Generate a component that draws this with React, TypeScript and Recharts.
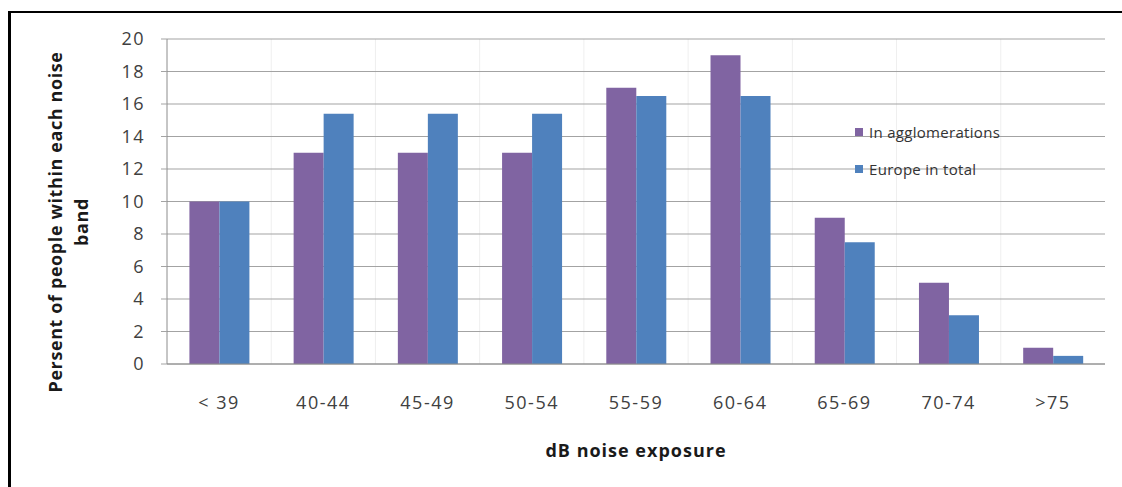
import React from "react"
import {
  BarChart,
  Bar,
  XAxis,
  YAxis,
  CartesianGrid,
  Legend,
} from "recharts"

// noise bands on the x axis
const bands = ["< 39", "40-44", "45-49", "50-54", "55-59", "60-64", "65-69", "70-74", ">75"]
// percent of people per band
const agglomerations = [10, 13, 13, 13, 17, 19, 9, 5, 1]
const europeTotal = [10, 15.4, 15.4, 15.4, 16.5, 16.5, 7.5, 3, 0.5]
const yTicks = [0, 2, 4, 6, 8, 10, 12, 14, 16, 18, 20]

const series = [
  { key: "agglo", name: "In agglomerations", color: "#8064A2" },
  { key: "europe", name: "Europe in total", color: "#4F81BD" },
]

const data = bands.map((band, i) => ({
  band,
  agglo: agglomerations[i],
  europe: europeTotal[i],
}))

const FONT = "'Open Sans', 'Noto Sans', sans-serif"

const LegendBox = () => (
  <div style={{ fontFamily: FONT, fontSize: 15, color: "#333" }}>
    {series.map((s) => (
      <div
        key={s.key}
        style={{ display: "flex", alignItems: "center", height: 37 }}
      >
        <span
          style={{
            width: 8,
            height: 8,
            background: s.color,
            marginRight: 6,
            display: "inline-block",
          }}
        />
        <span style={{ letterSpacing: 0.3 }}>{s.name}</span>
      </div>
    ))}
  </div>
)

const YLabel = () => (
  <text
    transform="rotate(-90)"
    textAnchor="middle"
    fontFamily={FONT}
    fontSize={18}
    fontWeight={700}
    fill="#1a1a1a"
    letterSpacing={0.6}
  >
    <tspan x={-222} y={62}>Persent of people within each noise</tspan>
    <tspan x={-222} y={88}>band</tspan>
  </text>
)

const XLabel = () => (
  <text
    x={636}
    y={457}
    textAnchor="middle"
    fontFamily={FONT}
    fontSize={18}
    fontWeight={700}
    fill="#1a1a1a"
    letterSpacing={1}
  >
    dB noise exposure
  </text>
)

export default function App() {
  return (
    <div
      style={{
        position: "absolute",
        left: 0,
        top: 0,
        width: 1122,
        height: 487,
        background: "#fff",
      }}
    >
      <div
        style={{
          position: "absolute",
          left: 8,
          top: 11,
          right: 0,
          bottom: 0,
          borderTop: "2px solid #000",
          borderLeft: "3px solid #000",
        }}
      />
      <BarChart
        width={1122}
        height={487}
        data={data}
        margin={{ top: 39, right: 17, bottom: 93, left: 107 }}
        barCategoryGap="21.5%"
        barGap={0}
        style={{ position: "absolute", left: 0, top: 0 }}
      >
        <CartesianGrid
          horizontal={false}
          stroke="#efefef"
          verticalCoordinatesGenerator={({ offset }: any) =>
            bands.map((_, i) => offset.left + (i * offset.width) / bands.length).slice(1)
          }
        />
        <CartesianGrid vertical={false} stroke="#a3a3a3" />
        <XAxis
          dataKey="band"
          height={30}
          tickLine={false}
          axisLine={{ stroke: "#8c8c8c" }}
          tick={{ fontFamily: FONT, fontSize: 18, fill: "#404040", letterSpacing: 1.5 }}
          tickMargin={26}
          interval={0}
          label={<XLabel />}
        />
        <YAxis
          width={60}
          domain={[0, 20]}
          ticks={yTicks}
          interval={0}
          tickSize={6}
          tickMargin={16}
          tickLine={{ stroke: "#a3a3a3" }}
          axisLine={{ stroke: "#8c8c8c" }}
          tick={{ fontFamily: FONT, fontSize: 18, fill: "#404040", letterSpacing: 1.5 }}
          label={<YLabel />}
        />
        <Legend
          layout="horizontal"
          align="center"
          verticalAlign="middle"
          content={<LegendBox />}
          wrapperStyle={{ left: 855, top: 113, width: 200 }}
        />
        {series.map((s) => (
          <Bar
            key={s.key}
            dataKey={s.key}
            name={s.name}
            fill={s.color}
            isAnimationActive={false}
          />
        ))}
      </BarChart>
    </div>
  )
}
